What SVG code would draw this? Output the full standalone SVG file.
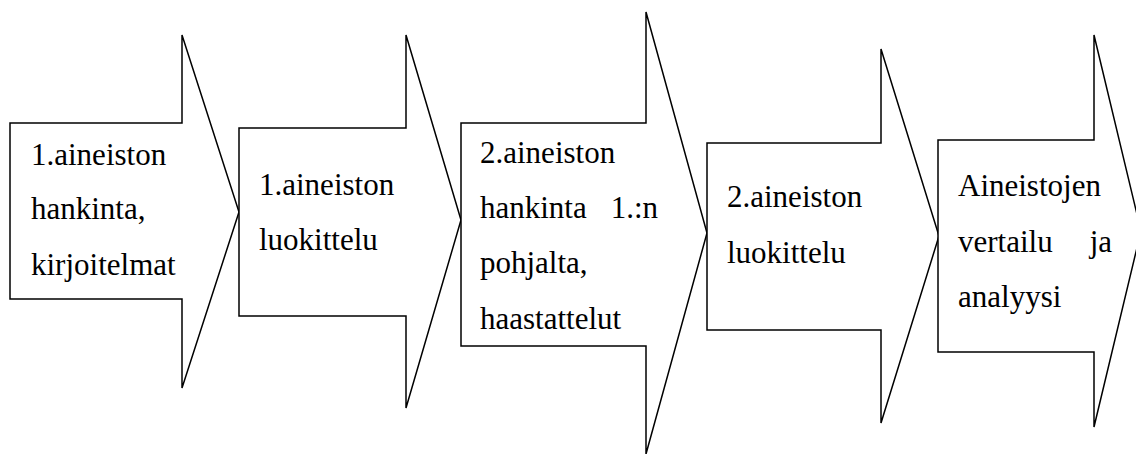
<svg xmlns="http://www.w3.org/2000/svg" width="1136" height="454" viewBox="0 0 1136 454">
<style>
.arrow{fill:#fff;stroke:#000;stroke-width:1.5;stroke-linejoin:miter}
text{font-family:'Liberation Serif','Times New Roman',Times,serif;font-size:31px;fill:#000}
</style>
<rect width="1136" height="454" fill="#fff"/>
<g id="n1">
<polygon class="arrow" points="10,123 182,123 182,35 239,212 182,388 182,299 10,299"/>
<text x="31" y="165">1.aineiston</text>
<text x="31" y="219">hankinta,</text>
<text x="31" y="275">kirjoitelmat</text>
</g>
<g id="n2">
<polygon class="arrow" points="239,128 406,128 406,35 461,220 406,408 406,316 239,316"/>
<text x="259" y="195">1.aineiston</text>
<text x="259" y="250">luokittelu</text>
</g>
<g id="n3">
<polygon class="arrow" points="461,123 646,123 646,12 707,233 646,454 646,346 461,346"/>
<text x="480" y="163">2.aineiston</text>
<text x="480" y="218">hankinta</text>
<text x="658" y="218" text-anchor="end">1.:n</text>
<text x="480" y="273">pohjalta,</text>
<text x="480" y="329">haastattelut</text>
</g>
<g id="n4">
<polygon class="arrow" points="707,143 881,143 881,49 939,236 881,423 881,330 707,330"/>
<text x="727" y="207">2.aineiston</text>
<text x="727" y="263">luokittelu</text>
</g>
<g id="n5">
<polygon class="arrow" points="938,140 1094,140 1094,35 1141,231 1094,427 1094,352 938,352"/>
<text x="958" y="196">Aineistojen</text>
<text x="958" y="252">vertailu</text>
<text x="1112" y="252" text-anchor="end">ja</text>
<text x="958" y="307">analyysi</text>
</g>
<g id="connectors"></g>
</svg>
